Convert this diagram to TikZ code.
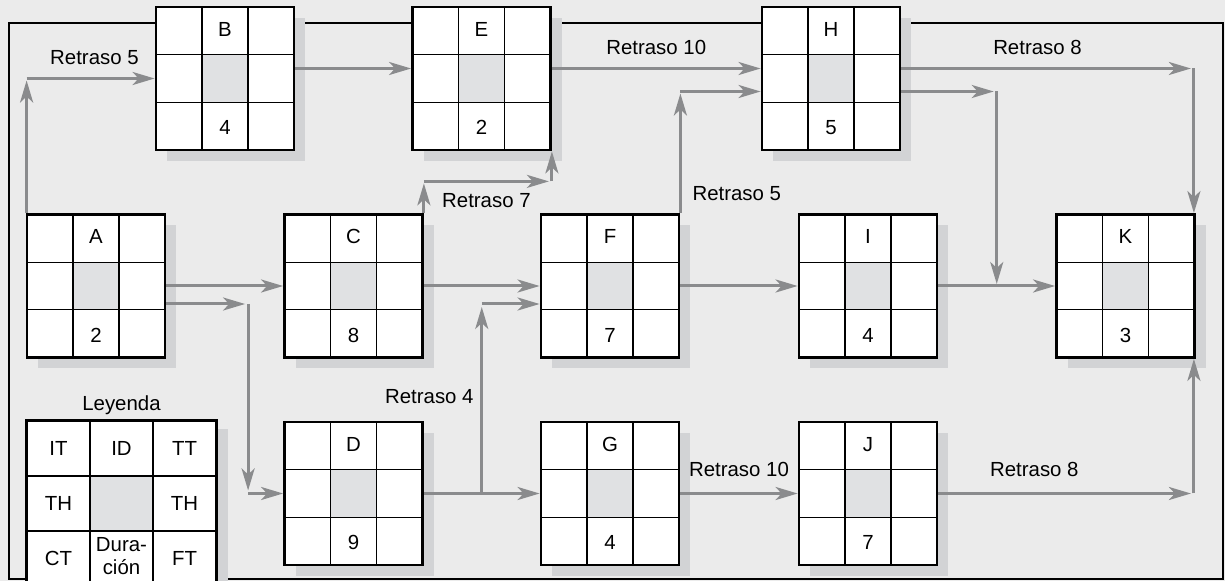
\documentclass[tikz,border=0pt]{standalone}
\usepackage{fontspec}
\setmainfont{Liberation Sans}
\usetikzlibrary{arrows.meta,positioning,calc,matrix}

\definecolor{fondo}{HTML}{EBEBEB}
\definecolor{sombra}{HTML}{D2D3D5}
\definecolor{centro}{HTML}{E0E1E3}
\definecolor{gris}{HTML}{8A8B8D}

\begin{document}
\begin{tikzpicture}[
            x=0.5pt, y=-0.5pt,
            font=\fontsize{10.2}{11.5}\selectfont,
            caja/.style={
                    draw=black,
                    line width=1.4pt,
                    fill=white,
                    rectangle,
                    inner sep=0pt,
                    preaction={fill=sombra, transform canvas={shift={(5.5pt,-5.5pt)}}}
                },
            actividad/.style 2 args={
                    caja,
                    minimum width=69pt,
                    minimum height=71.5pt,
                    path picture={
                            \coordinate (so) at (path picture bounding box.south west);
                            \coordinate (ne) at (path picture bounding box.north east);
                            \fill[centro] ($(so)!1/3!(ne)$) rectangle ($(so)!2/3!(ne)$);
                            \foreach \p in {1/3,2/3} {
                                \draw[line width=0.6pt] ($(so)!\p!(so -| ne)$) -- ($(so |- ne)!\p!(ne)$);
                                \draw[line width=0.6pt] ($(so)!\p!(so |- ne)$) -- ($(so -| ne)!\p!(ne)$);
                            }
                        },
                    label={[anchor=center, yshift=-11.9pt]north:#1},
                    label={[anchor=center, yshift=11.9pt]south:#2}
                },
            flecha/.style={
                    -{Stealth[length=11pt, width=6.5pt, inset=3pt]},
                    draw=gris,
                    line width=1.5pt
                },
            retraso/.style={
                    align=center
                }
            ]

            % Fondo y marco
            \useasboundingbox (0,0) rectangle (1225,581);
            \fill[fondo] (0,0) rectangle (1225,581);
            \clip (0,0) rectangle (1225,581);
            \draw[line width=1pt] (8.5,23.5) rectangle (1222.5,579.5);

            % Actividades
            \node[actividad={B}{4}] (B) at (225,78.5) {};
            \node[actividad={E}{2}] (E) at (481.5,78.5) {};
            \node[actividad={H}{5}] (H) at (831,78.5) {};
            \node[actividad={A}{2}] (A) at (96,286) {};
            \node[actividad={C}{8}] (C) at (353.5,286) {};
            \node[actividad={F}{7}] (F) at (610,286) {};
            \node[actividad={I}{4}] (I) at (868,286) {};
            \node[actividad={K}{3}] (K) at (1125.5,286) {};
            \node[actividad={D}{9}] (D) at (353.5,493.5) {};
            \node[actividad={G}{4}] (G) at (610,493.5) {};
            \node[actividad={J}{7}] (J) at (868,493.5) {};

            % Fila superior
            \coordinate (esqAB) at ($(A.north west |- B.west)+(1,0)$);
            \draw[flecha] ($(A.north west)+(1,0)$) -- ($(esqAB)+(0,2)$);
            \draw[flecha] (esqAB) -- (B.west)
            node[retraso, pos=0.53, above=3pt] {Retraso 5};
            \draw[flecha] ([yshift=5pt]B.east) -- ([yshift=5pt]E.west);
            \draw[flecha] ([yshift=5pt]E.east) -- ([yshift=5pt]H.west)
            node[retraso, midway, above=3pt] {Retraso 10};

            \coordinate (esqCE) at ($(C.north east |- E.south)+(0,30)$);
            \coordinate (esqCE2) at (esqCE -| E.south east);
            \draw[flecha] (C.north east) -- ($(esqCE)+(0,2)$);
            \draw[flecha] (esqCE) -- ($(esqCE2)+(-3,0)$)
            node[retraso, midway, below=2pt] {Retraso 7};
            \draw[flecha] (esqCE2) -- (E.south east);

            \coordinate (esqFH) at ($(F.north east |- H.west)+(0,13)$);
            \draw[flecha] (F.north east) -- ($(esqFH)+(0,2)$)
            node[retraso, pos=0.16, right=2pt] {Retraso 5};
            \draw[flecha] (esqFH) -- ($(H.west)+(0,13)$);

            \coordinate (esqHK) at ($(H.east -| K.north east)+(-2,-10)$);
            \draw[flecha] ([yshift=5pt]H.east) -- ($(esqHK)+(-3,0)$)
            node[retraso, pos=0.47, above=3pt] {Retraso 8};
            \draw[flecha] (esqHK) -- (esqHK |- K.north);

            \coordinate (esqHI) at ($(I.east)!0.5!(K.west)$);
            \coordinate (esqHI2) at ($(esqHI |- H.east)+(0,13)$);
            \draw[flecha] ($(H.east)+(0,13)$) -- ($(esqHI2)+(-3,0)$);
            \draw[flecha] (esqHI2) -- ($(esqHI)+(0,-2)$);

            % Fila central
            \draw[flecha] (A.east) -- (C.west);
            \draw[flecha] (C.east) -- (F.west);
            \draw[flecha] (F.east) -- (I.west);
            \draw[flecha] (I.east) -- (K.west);

            \coordinate (esqAD) at ($(A.east -| D.west)+(-35,18)$);
            \coordinate (esqAD2) at (esqAD |- D.west);
            \draw[flecha] ($(A.east)+(0,18)$) -- ($(esqAD)+(-3,0)$);
            \draw[flecha] (esqAD) -- ($(esqAD2)+(0,-3)$);
            \draw[flecha] (esqAD2) -- (D.west);

            % Fila inferior
            \draw[flecha] (D.east) -- (G.west);
            \coordinate (esqDF) at ($(D.east)!0.5!(G.west)$);
            \coordinate (esqDF2) at ($(esqDF |- F.west)+(0,18)$);
            \draw[flecha] (esqDF) -- ($(esqDF2)+(0,3)$)
            node[retraso, pos=0.52, left=0pt] {Retraso 4};
            \draw[flecha] (esqDF2) -- ($(F.west)+(0,18)$);

            \draw[flecha] (G.east) -- (J.west)
            node[retraso, midway, above=4.5pt] {Retraso 10};
            \coordinate (esqJK) at ($(J.east -| K.south east)+(-2,0)$);
            \draw[flecha] (J.east) -- ($(esqJK)+(-3,0)$)
            node[retraso, pos=0.38, above=4.5pt] {Retraso 8};
            \draw[flecha] (esqJK) -- (esqJK |- K.south);

            % Leyenda
            \matrix[
            matrix of nodes,
            fill=white,
            inner sep=0pt,
            preaction={fill=sombra, transform canvas={shift={(5.5pt,-4.5pt)}}},
            column sep=-0.6pt,
            row sep=-0.6pt,
            nodes={draw=black, line width=0.6pt, minimum width=31.5pt,
                    minimum height=27.5pt, inner sep=0pt, outer sep=0pt,
                    anchor=center}
            ] (leyenda) at (121.5,503.5) {
            IT & ID & TT \\
            TH & |[fill=centro]| {} & TH \\
            CT & \begin{tabular}{@{}c@{}}Dura-\\ción\end{tabular} & FT \\
            };
            \draw[line width=1.4pt] (leyenda.north west) rectangle (leyenda.south east);
            \node[above=-1pt of leyenda] (titulo) {Leyenda};

        \end{tikzpicture}
\end{document}
